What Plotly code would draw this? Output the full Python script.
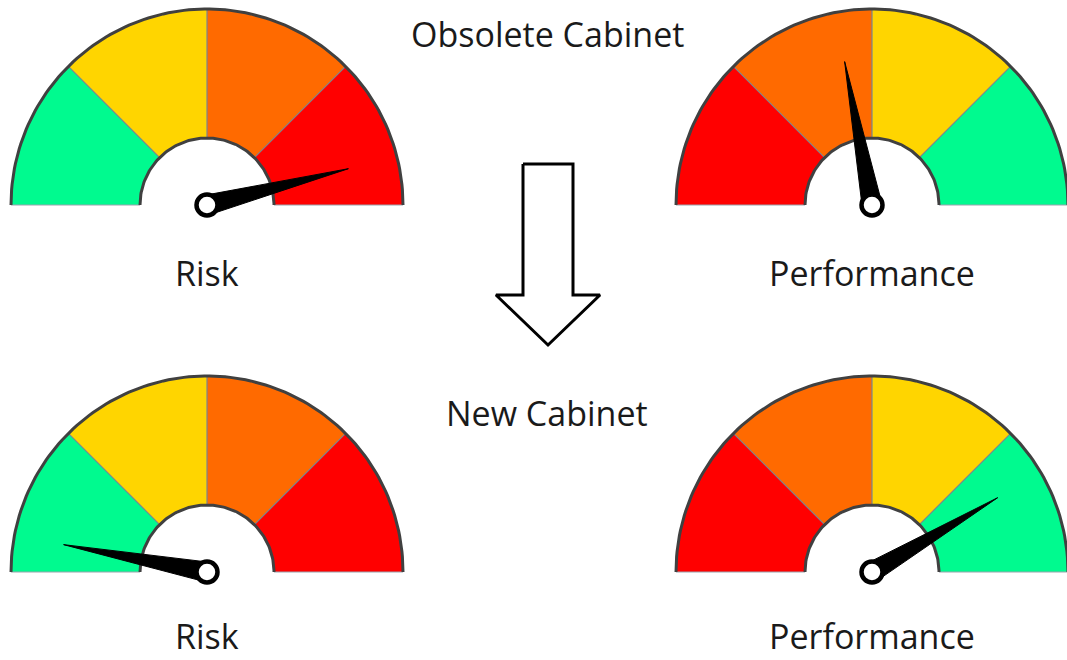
import numpy as np
import plotly.graph_objects as go

# ---- data ----
section_titles = ["Obsolete Cabinet", "New Cabinet"]
metrics = ["Risk", "Performance"]
band_edges = [0, 25, 50, 75, 100]
risk_colors = ["#00FA8F", "#FFD500", "#FF6A00", "#FF0000"]
performance_colors = ["#FF0000", "#FF6A00", "#FFD500", "#00FA8F"]
risk_values = [92, 6]          # obsolete, new
performance_values = [44, 83]  # obsolete, new

# ---- layout (pixel space) ----
W, H = 1067, 660
R_OUT, R_IN = 196, 67
NEEDLE_LEN, NEEDLE_HALF = 146, 10
col_x = [207, 872]
row_y = [205, 572]
title_pos = [(547, 34), (547, 413)]
label_y = [273, 636]

fig = go.Figure()


def ang(v):
    return np.radians(180 - v * 1.8)


def arc(cx, cy, r, a0, a1, n=60):
    t = np.linspace(a0, a1, n)
    return cx + r * np.cos(t), cy - r * np.sin(t)


def gauge(cx, cy, colors, value):
    for i, c in enumerate(colors):
        a0, a1 = ang(band_edges[i]), ang(band_edges[i + 1])
        xo, yo = arc(cx, cy, R_OUT, a0, a1)
        xi, yi = arc(cx, cy, R_IN, a1, a0)
        fig.add_trace(go.Scatter(x=np.r_[xo, xi, xo[0]], y=np.r_[yo, yi, yo[0]],
                                 fill="toself", fillcolor=c, mode="lines",
                                 line=dict(width=0), hoverinfo="skip"))
    # dividers
    for e in band_edges[1:-1]:
        a = ang(e)
        fig.add_trace(go.Scatter(x=[cx + R_IN * np.cos(a), cx + R_OUT * np.cos(a)],
                                 y=[cy - R_IN * np.sin(a), cy - R_OUT * np.sin(a)],
                                 mode="lines", line=dict(color="#7a8590", width=1.2),
                                 hoverinfo="skip"))
    # baseline
    for xs in ([cx - R_OUT, cx - R_IN], [cx + R_IN, cx + R_OUT]):
        fig.add_trace(go.Scatter(x=xs, y=[cy, cy], mode="lines",
                                 line=dict(color="#9aa4ae", width=1), hoverinfo="skip"))
    # borders
    for r in (R_OUT, R_IN):
        x, y = arc(cx, cy, r, np.pi, 0, 120)
        fig.add_trace(go.Scatter(x=x, y=y, mode="lines",
                                 line=dict(color="#404040", width=3), hoverinfo="skip"))
    # needle
    a = ang(value)
    tx, ty = cx + NEEDLE_LEN * np.cos(a), cy - NEEDLE_LEN * np.sin(a)
    px, py = -np.sin(a), -np.cos(a)
    fig.add_trace(go.Scatter(x=[cx + NEEDLE_HALF * px, tx, cx - NEEDLE_HALF * px, cx + NEEDLE_HALF * px],
                             y=[cy + NEEDLE_HALF * py, ty, cy - NEEDLE_HALF * py, cy + NEEDLE_HALF * py],
                             fill="toself", fillcolor="black", mode="lines",
                             line=dict(color="black", width=1), hoverinfo="skip"))
    fig.add_trace(go.Scatter(x=[cx], y=[cy], mode="markers",
                             marker=dict(size=21, color="white", line=dict(color="black", width=4.5)),
                             hoverinfo="skip"))


for r in range(2):
    gauge(col_x[0], row_y[r], risk_colors, risk_values[r])
    gauge(col_x[1], row_y[r], performance_colors, performance_values[r])

# arrow
ax = [523, 573, 573, 600, 548, 496, 523, 523]
ay = [164, 164, 295, 295, 345, 295, 295, 164]
fig.add_trace(go.Scatter(x=ax, y=ay, fill="toself", fillcolor="white", mode="lines",
                         line=dict(color="black", width=3), hoverinfo="skip"))

font = dict(family="Open Sans", size=34, color="#1a1a1a")
for r in range(2):
    fig.add_annotation(x=title_pos[r][0], y=title_pos[r][1], text=section_titles[r],
                       showarrow=False, font=font, xanchor="center", yanchor="middle")
    for c in range(2):
        fig.add_annotation(x=col_x[c], y=label_y[r], text=metrics[c], showarrow=False,
                           font=font, xanchor="center", yanchor="middle")

fig.update_layout(width=W, height=H, margin=dict(l=0, r=0, t=0, b=0),
                  paper_bgcolor="white", plot_bgcolor="white", showlegend=False,
                  xaxis=dict(range=[0, W], visible=False, fixedrange=True),
                  yaxis=dict(range=[H, 0], visible=False, fixedrange=True))
fig.write_html("out.html", config={"displayModeBar": False},
               post_script="document.body.style.margin='0';document.body.style.overflow='hidden';")
